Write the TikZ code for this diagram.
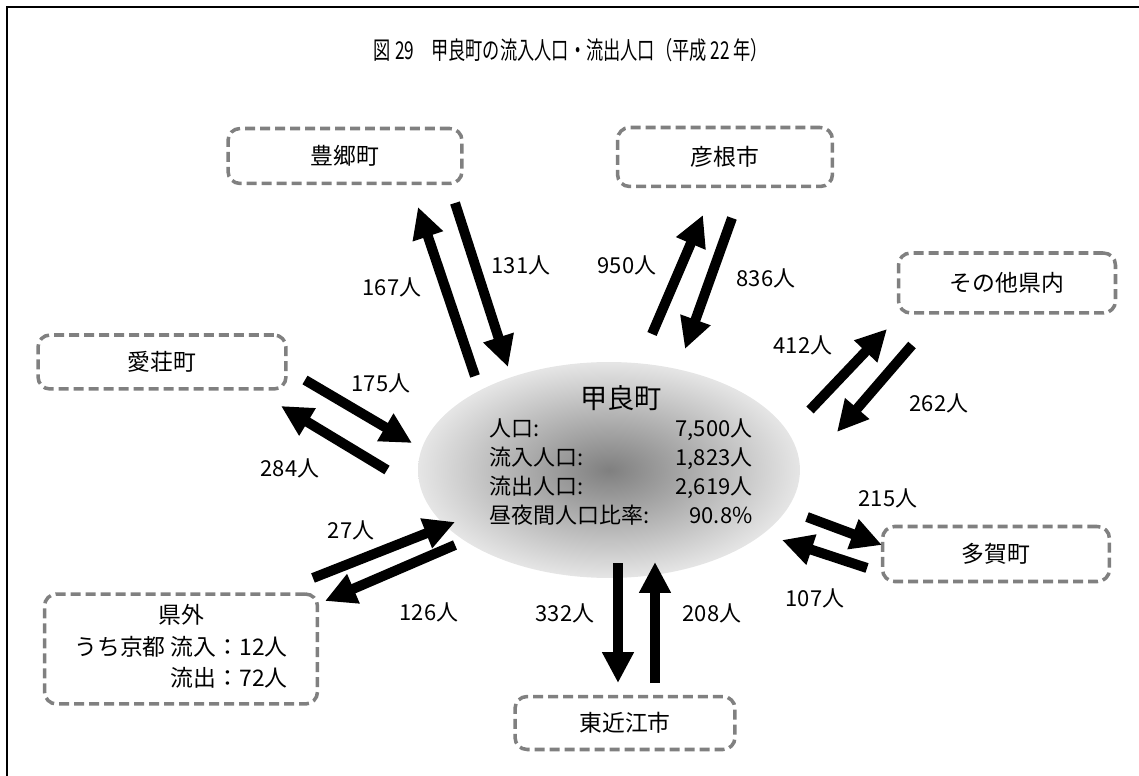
\documentclass[tikz,border=0pt]{standalone}
\usepackage{fontspec}
\setmainfont{Noto Sans CJK JP}
\usepackage{graphicx}
\usetikzlibrary{arrows.meta,shapes.geometric}
\definecolor{boxgray}{HTML}{808080}

\begin{document}
\begin{tikzpicture}[x=0.02cm, y=-0.02cm,
  area/.style={draw=boxgray, line width=2pt, dash pattern=on 0.2cm off 0.1cm,
    rounded corners=0.24cm, inner sep=0pt, font=\fontsize{13pt}{16pt}\selectfont},
  flow/.style={line width=0.2cm, -{Triangle[width=0.6cm,length=0.62cm]}},
  num/.style={inner sep=0pt, font=\fontsize{12.5pt}{15pt}\selectfont}]
  \useasboundingbox (0,0) rectangle (1139,776);
  \draw[line width=1.1pt] (7,776) -- (7,7) -- (1139,7);

  \node[font=\fontsize{14pt}{17pt}\selectfont] (title) at (571,50)
    {\scalebox{0.7}[1]{図 29　甲良町の流入人口・流出人口（平成 22 年）}};

  % ----- 甲良町 (center) -----
  \node[ellipse, minimum width=7.64cm, minimum height=4.32cm, inner sep=0pt,
    shading=radial, inner color=gray, outer color=gray!20] (kora) at (609,470) {};
  \node[font=\fontsize{15.5pt}{18pt}\selectfont] (kname) at (621,398) {甲良町};
  \node[inner sep=0pt, font=\fontsize{12.5pt}{16.6pt}\selectfont] (kstat) at (621,474)
    {\begin{tabular*}{5.26cm}{@{}l@{\extracolsep{\fill}}r@{}}
      人口: & 7,500人\\
      流入人口: & 1,823人\\
      流出人口: & 2,619人\\
      昼夜間人口比率: & 90.8\%
    \end{tabular*}};

  % ----- surrounding towns -----
  \node[area, minimum width=4.68cm, minimum height=1.10cm] (toyo) at (345,156) {豊郷町};
  \node[area, minimum width=4.30cm, minimum height=1.18cm] (hiko) at (725,157) {彦根市};
  \node[area, minimum width=4.34cm, minimum height=1.20cm] (sono) at (1007,283) {その他県内};
  \node[area, minimum width=4.96cm, minimum height=1.08cm] (aisho) at (162,362) {愛荘町};
  \node[area, minimum width=4.54cm, minimum height=1.10cm] (taga) at (996,554) {多賀町};
  \node[area, minimum width=4.40cm, minimum height=1.06cm] (higa) at (625,723) {東近江市};
  \node[area, minimum width=5.46cm, minimum height=2.20cm,
    font=\fontsize{13pt}{18pt}\selectfont] (kengai) at (181,649)
    {\begin{tabular}{@{}r@{}}
      \multicolumn{1}{@{}c@{}}{県外}\\
      うち京都 流入：12人\\
      流出：72人
    \end{tabular}};

  % ----- arrow ends -----
  \coordinate (toyoA) at (475,376);  \coordinate (toyoB) at (418,207);
  \coordinate (toyoC) at (455,203);  \coordinate (toyoD) at (508,367);
  \coordinate (hikoA) at (652,334);  \coordinate (hikoB) at (703,215);
  \coordinate (hikoC) at (732,218);  \coordinate (hikoD) at (685,349);
  \coordinate (sonoA) at (810,410);  \coordinate (sonoB) at (887,329);
  \coordinate (sonoC) at (912,345);  \coordinate (sonoD) at (837,432);
  \coordinate (aishoA) at (305,380); \coordinate (aishoB) at (412,443);
  \coordinate (aishoC) at (387,470); \coordinate (aishoD) at (281,406);
  \coordinate (tagaA) at (807,517);  \coordinate (tagaB) at (882,545);
  \coordinate (tagaC) at (867,568);  \coordinate (tagaD) at (782,540);
  \coordinate (higaA) at (618,563);  \coordinate (higaB) at (618,683);
  \coordinate (higaC) at (655,683);  \coordinate (higaD) at (655,562);
  \coordinate (kengaiA) at (313,578); \coordinate (kengaiB) at (455,522);
  \coordinate (kengaiC) at (455,545); \coordinate (kengaiD) at (325,601);

  % ----- flows -----
  \draw[flow] (toyoA) -- (toyoB);
  \draw[flow] (toyoC) -- (toyoD);
  \draw[flow] (hikoA) -- (hikoB);
  \draw[flow] (hikoC) -- (hikoD);
  \draw[flow] (sonoA) -- (sonoB);
  \draw[flow] (sonoC) -- (sonoD);
  \draw[flow] (aishoA) -- (aishoB);
  \draw[flow] (aishoC) -- (aishoD);
  \draw[flow] (tagaA) -- (tagaB);
  \draw[flow] (tagaC) -- (tagaD);
  \draw[flow] (higaA) -- (higaB);
  \draw[flow] (higaC) -- (higaD);
  \draw[flow] (kengaiA) -- (kengaiB);
  \draw[flow] (kengaiC) -- (kengaiD);

  % ----- numbers -----
  \node[num] (n167) at (392,287) {167人};
  \node[num] (n131) at (521,265) {131人};
  \node[num] (n950) at (627,265) {950人};
  \node[num] (n836) at (766,278) {836人};
  \node[num] (n412) at (803,345) {412人};
  \node[num] (n262) at (939,403) {262人};
  \node[num] (n175) at (381,383) {175人};
  \node[num] (n284) at (290,468) {284人};
  \node[num] (n27) at (351,530) {27人};
  \node[num] (n126) at (429,612) {126人};
  \node[num] (n215) at (888,498) {215人};
  \node[num] (n107) at (815,598) {107人};
  \node[num] (n332) at (565,613) {332人};
  \node[num] (n208) at (712,613) {208人};
\end{tikzpicture}
\end{document}
